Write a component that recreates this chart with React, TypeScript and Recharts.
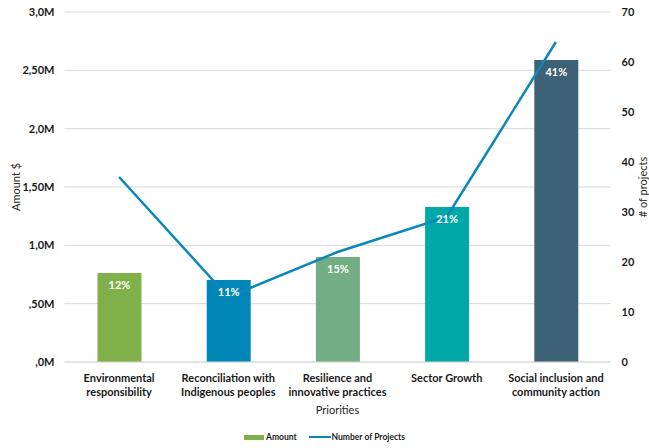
import React from 'react';
import {
  ComposedChart, Bar, Line, XAxis, YAxis, CartesianGrid, Legend, Cell, LabelList,
} from 'recharts';

// chart data
const categories = [
  'Environmental responsibility',
  'Reconciliation with Indigenous peoples',
  'Resilience and innovative practices',
  'Sector Growth',
  'Social inclusion and community action',
];
const tickLines = [
  ['Environmental', 'responsibility'],
  ['Reconciliation with', 'Indigenous peoples'],
  ['Resilience and', 'innovative practices'],
  ['Sector Growth'],
  ['Social inclusion and', 'community action'],
];
const amounts = [763000, 703000, 900000, 1328000, 2588000];
const projects = [37, 13, 22, 29, 64];
const shareLabels = ['12%', '11%', '15%', '21%', '41%'];
const barColors = ['#80b04a', '#0087b8', '#72ad83', '#00a8a8', '#3e6275'];
const amountTicks = [0, 500000, 1000000, 1500000, 2000000, 2500000, 3000000];
const amountTickLabels = [',0M', ',50M', '1,0M', '1,50M', '2,0M', '2,50M', '3,0M'];
const projectTicks = [0, 10, 20, 30, 40, 50, 60, 70];

const chartData = categories.map((name, i) => ({
  name,
  amount: amounts[i],
  projects: projects[i],
  share: shareLabels[i],
}));

const FONT = 'Lato, "Open Sans", sans-serif';
const LINE_COLOR = '#0a87bb';

const CategoryTick = (props: any) => {
  const { x, y, index } = props;
  const lines = tickLines[index] || [];
  return (
    <text x={x} y={y} textAnchor="middle" fontFamily={FONT} fontSize={11} fontWeight={700} fill="#1a1a1a">
      {lines.map((l, i) => (
        <tspan key={i} x={x} dy={i === 0 ? 12 : 14}>{l}</tspan>
      ))}
    </text>
  );
};

// rotated axis titles, placed against the chart edges
const SideTitle = ({ viewBox, title, posX }: any) => {
  const cy = viewBox.y + viewBox.height / 2;
  return (
    <text
      x={posX}
      y={cy}
      transform={`rotate(-90, ${posX}, ${cy})`}
      textAnchor="middle"
      dominantBaseline="central"
      fontFamily={FONT}
      fontSize={11}
      fill="#262626"
    >
      {title}
    </text>
  );
};

const LegendContent = () => (
  <div style={{
    display: 'flex', justifyContent: 'center', alignItems: 'center',
    fontFamily: FONT, fontSize: 8.5, fontWeight: 700, color: '#1a1a1a',
  }}>
    <span style={{ display: 'inline-block', width: 20, height: 5, background: barColors[0], marginRight: 2 }} />
    <span style={{ marginRight: 12 }}>Amount</span>
    <span style={{ display: 'inline-block', width: 22, height: 2, background: LINE_COLOR, marginRight: 1 }} />
    <span>Number of Projects</span>
  </div>
);

export default function App() {
  return (
    <div style={{ position: 'absolute', left: 0, top: 0 }}>
      <ComposedChart
        width={649}
        height={448}
        data={chartData}
        margin={{ top: 12, right: 0, bottom: 0, left: 0 }}
        barCategoryGap={0}
      >
        <CartesianGrid vertical={false} stroke="#d9d9d9" yAxisId="amount" />
        <XAxis
          dataKey="name"
          axisLine={{ stroke: '#d9d9d9' }}
          tickLine={false}
          tick={<CategoryTick />}
          interval={0}
          height={70}
          label={{ value: 'Priorities', position: 'insideBottom', offset: 18, fontFamily: FONT, fontSize: 11, fill: '#262626' }}
        />
        <YAxis
          yAxisId="amount"
          width={64.5}
          domain={[0, 3000000]}
          ticks={amountTicks}
          tickFormatter={(v: number) => amountTickLabels[amountTicks.indexOf(v)]}
          axisLine={false}
          tickLine={false}
          tickSize={0}
          tickMargin={10}
          tick={{ fontFamily: FONT, fontSize: 11, fontWeight: 700, fill: '#1a1a1a' }}
          label={<SideTitle title="Amount $" posX={15} />}
        />
        <YAxis
          yAxisId="projects"
          orientation="right"
          width={38.5}
          domain={[0, 70]}
          ticks={projectTicks}
          axisLine={false}
          tickLine={false}
          tickSize={0}
          tickMargin={11}
          tick={{ fontFamily: FONT, fontSize: 11, fontWeight: 700, fill: '#1a1a1a' }}
          label={<SideTitle title="# of projects" posX={642} />}
        />
        <Line
          yAxisId="projects"
          dataKey="projects"
          name="Number of Projects"
          stroke={LINE_COLOR}
          strokeWidth={2.5}
          dot={false}
          activeDot={false}
          isAnimationActive={false}
        />
        <Bar yAxisId="amount" dataKey="amount" name="Amount" barSize={44} isAnimationActive={false}>
          {chartData.map((d, i) => (
            <Cell key={d.name} fill={barColors[i]} />
          ))}
          <LabelList
            dataKey="share"
            position="insideTop"
            offset={8}
            fill="#ffffff"
            fontFamily={FONT}
            fontSize={11}
            fontWeight={700}
          />
        </Bar>
        <Legend verticalAlign="bottom" height={16} content={<LegendContent />} />
      </ComposedChart>
    </div>
  );
}
